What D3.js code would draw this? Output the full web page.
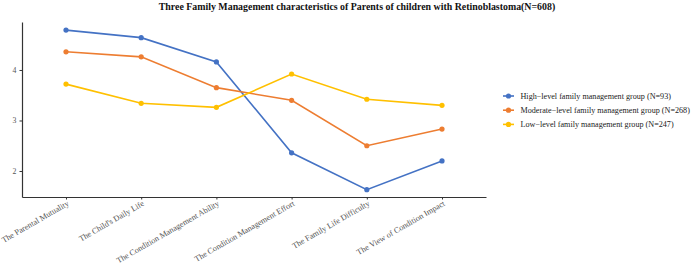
<!DOCTYPE html>
<html><head><meta charset="utf-8">
<script src="https://cdn.jsdelivr.net/npm/d3@7"></script>
<style>body{margin:0;background:#fff}svg{display:block}</style>
</head><body>
<script>
const categories = ["The Parental Mutuality","The Child's Daily Life","The Condition Management Ability","The Condition Management Effort","The Family Life Difficulty","The View of Condition Impact"];
const seriesNames = ["High\u2212level family management group (N=93)","Moderate\u2212level family management group (N=268)","Low\u2212level family management group (N=247)"];
const highValues = [4.79,4.64,4.16,2.36,1.63,2.20];
const moderateValues = [4.36,4.26,3.65,3.40,2.50,2.83];
const lowValues = [3.72,3.34,3.26,3.92,3.42,3.30];
const yTicks = [2,3,4];
const colors = ["#4472C4","#ED7D31","#FFC000"];
const title = "Three Family Management characteristics of Parents of children with Retinoblastoma(N=608)";

const W=692,H=266;
const svg=d3.select("body").append("svg").attr("width",W).attr("height",H);
const font="'Liberation Serif','Times New Roman',serif";
const x=d3.scalePoint().domain(categories).range([22,486]).padding(0.585);
const y=d3.scaleLinear().domain([1.485,4.95]).range([197,22]);

svg.append("text").attr("x",357).attr("y",10).attr("text-anchor","middle")
  .attr("font-family",font).attr("font-weight","bold").attr("font-size",9.9).attr("fill","#111").text(title);

const xa=svg.append("g").attr("transform","translate(0,197)").call(d3.axisBottom(x).tickSize(2.5).tickSizeOuter(0));
xa.select(".domain").attr("stroke","#333").attr("stroke-width",1.2);
xa.selectAll(".tick line").attr("stroke","#333");
xa.selectAll("text").attr("font-family",font).attr("font-size",8.2).attr("fill","#555")
  .attr("text-anchor","end").attr("dy",null).attr("y",0).attr("x",0)
  .attr("transform","translate(3,8) rotate(-30)");

const ya=svg.append("g").attr("transform","translate(22,0)").call(d3.axisLeft(y).tickValues(yTicks).tickSize(2.5).tickSizeOuter(0).tickFormat(d3.format("d")));
ya.select(".domain").attr("stroke","#333").attr("stroke-width",1.2);
ya.selectAll(".tick line").attr("stroke","#333");
ya.selectAll("text").attr("font-family",font).attr("font-size",7.8).attr("fill","#555");

const all=[highValues,moderateValues,lowValues];
const line=d3.line().x((d,i)=>x(categories[i])).y(d=>y(d));
all.forEach((vals,k)=>{
  svg.append("path").datum(vals).attr("d",line).attr("fill","none").attr("stroke",colors[k]).attr("stroke-width",1.6);
  svg.selectAll(null).data(vals).enter().append("circle")
    .attr("cx",(d,i)=>x(categories[i])).attr("cy",d=>y(d)).attr("r",2.6).attr("fill",colors[k]);
});

const lg=svg.append("g");
let fs=8.9;
const texts=[];
seriesNames.forEach((n,k)=>{
  const yy=96+k*14.2;
  lg.append("line").attr("x1",503).attr("x2",514).attr("y1",yy).attr("y2",yy).attr("stroke",colors[k]).attr("stroke-width",1.6);
  lg.append("circle").attr("cx",508.5).attr("cy",yy).attr("r",2.6).attr("fill",colors[k]);
  texts.push(lg.append("text").attr("x",520.5).attr("y",yy).attr("dy","0.35em").attr("font-family",font).attr("font-size",fs).attr("fill","#222").text(n));
});
const maxLen=d3.max(texts,t=>t.node().getComputedTextLength());
if(maxLen>169){fs=fs*169/maxLen;texts.forEach(t=>t.attr("font-size",fs));}
</script>
</body></html>
